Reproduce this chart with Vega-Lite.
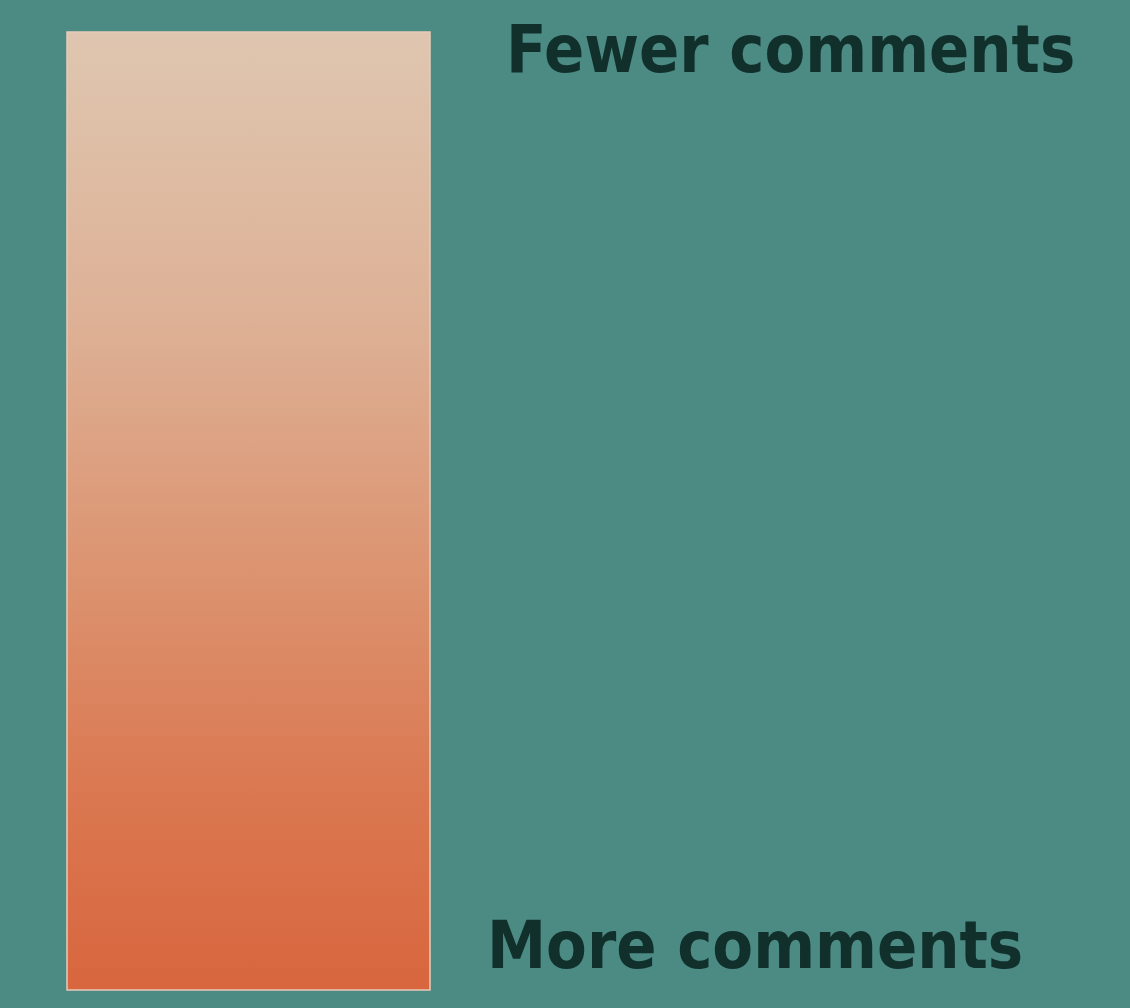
{
  "$schema": "https://vega.github.io/schema/vega-lite/v6.json",
  "width": 1130,
  "height": 1008,
  "autosize": {"type": "fit", "contains": "padding"},
  "padding": 0,
  "background": "#4c8a84",
  "config": {"view": {"stroke": null}},
  "datasets": {
    "bar": [{"label": "comment scale", "x": 67, "x2": 430, "y": 32, "y2": 990}],
    "labels": [
      {"text": "Fewer comments", "x": 506, "y": 72},
      {"text": "More comments", "x": 487, "y": 968}
    ]
  },
  "layer": [
    {
      "data": {"name": "bar"},
      "mark": {
        "type": "rect",
        "color": {
          "gradient": "linear",
          "x1": 0, "y1": 0, "x2": 0, "y2": 1,
          "stops": [
            {"offset": 0, "color": "#dfc6b0"},
            {"offset": 0.3, "color": "#ddb196"},
            {"offset": 0.55, "color": "#dc9572"},
            {"offset": 0.8, "color": "#da7750"},
            {"offset": 1, "color": "#d8663e"}
          ]
        },
        "stroke": "#e6cbb8",
        "strokeWidth": 1.5
      },
      "encoding": {
        "x": {"field": "x", "type": "quantitative", "scale": {"domain": [0, 1130]}, "axis": null},
        "x2": {"field": "x2"},
        "y": {"field": "y", "type": "quantitative", "scale": {"domain": [0, 1008], "reverse": true}, "axis": null},
        "y2": {"field": "y2"}
      }
    },
    {
      "data": {"name": "labels"},
      "mark": {
        "type": "text",
        "align": "left",
        "baseline": "alphabetic",
        "font": "DejaVu Sans Condensed",
        "fontWeight": "bold",
        "fontSize": 66,
        "color": "#11302c"
      },
      "encoding": {
        "x": {"field": "x", "type": "quantitative", "scale": {"domain": [0, 1130]}, "axis": null},
        "y": {"field": "y", "type": "quantitative", "scale": {"domain": [0, 1008], "reverse": true}, "axis": null},
        "text": {"field": "text"}
      }
    }
  ]
}
